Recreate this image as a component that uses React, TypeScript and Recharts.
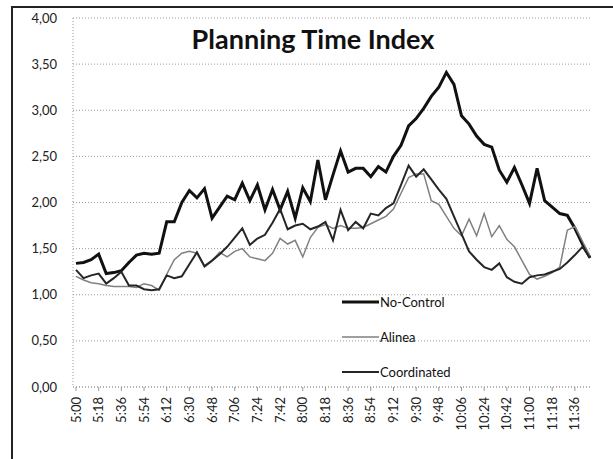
import React from 'react';
import { LineChart, Line, XAxis, YAxis, CartesianGrid, Legend } from 'recharts';

// 6-minute slots from 5:00 to 11:48
const times = [
  '5:00', '5:06', '5:12', '5:18', '5:24', '5:30', '5:36', '5:42', '5:48', '5:54',
  '6:00', '6:06', '6:12', '6:18', '6:24', '6:30', '6:36', '6:42', '6:48', '6:54',
  '7:00', '7:06', '7:12', '7:18', '7:24', '7:30', '7:36', '7:42', '7:48', '7:54',
  '8:00', '8:06', '8:12', '8:18', '8:24', '8:30', '8:36', '8:42', '8:48', '8:54',
  '9:00', '9:06', '9:12', '9:18', '9:24', '9:30', '9:36', '9:42', '9:48', '9:54',
  '10:00', '10:06', '10:12', '10:18', '10:24', '10:30', '10:36', '10:42', '10:48', '10:54',
  '11:00', '11:06', '11:12', '11:18', '11:24', '11:30', '11:36', '11:42', '11:48',
];

const noControl = [
  1.34, 1.35, 1.38, 1.44, 1.23, 1.24, 1.26, 1.35, 1.43, 1.45,
  1.44, 1.45, 1.79, 1.79, 2.0, 2.13, 2.05, 2.15, 1.83, 1.95,
  2.07, 2.03, 2.21, 2.02, 2.19, 1.92, 2.14, 1.92, 2.12, 1.83,
  2.16, 2.01, 2.46, 2.03, 2.3, 2.56, 2.33, 2.37, 2.37, 2.28,
  2.39, 2.33, 2.5, 2.62, 2.83, 2.91, 3.02, 3.15, 3.25, 3.41,
  3.28, 2.94, 2.85, 2.72, 2.63, 2.6, 2.35, 2.22, 2.38, 2.19,
  1.99, 2.37, 2.02, 1.95, 1.88, 1.86, 1.72, 1.55, 1.4,
];

const alinea = [
  1.2, 1.16, 1.13, 1.12, 1.1, 1.09, 1.09, 1.09, 1.08, 1.12,
  1.1, 1.05, 1.22, 1.38, 1.45, 1.47, 1.45, 1.3, 1.37, 1.46,
  1.41, 1.47, 1.5, 1.41, 1.39, 1.37, 1.45, 1.61, 1.55, 1.59,
  1.41, 1.62, 1.73, 1.76, 1.72, 1.75, 1.72, 1.72, 1.73, 1.77,
  1.81, 1.85, 1.93, 2.1, 2.27, 2.31, 2.31, 2.02, 1.98, 1.85,
  1.72, 1.64, 1.82, 1.64, 1.88, 1.63, 1.75, 1.6, 1.52, 1.37,
  1.22, 1.17, 1.2, 1.24, 1.3, 1.7, 1.74, 1.58, 1.42,
];

const coordinated = [
  1.27, 1.18, 1.21, 1.23, 1.12, 1.18, 1.25, 1.1, 1.1, 1.06,
  1.05, 1.06, 1.21, 1.18, 1.2, 1.33, 1.46, 1.31, 1.37, 1.44,
  1.52, 1.62, 1.72, 1.54, 1.61, 1.65, 1.78, 1.93, 1.71, 1.75,
  1.77, 1.71, 1.74, 1.79, 1.59, 1.92, 1.7, 1.79, 1.72, 1.88,
  1.86, 1.94, 1.99, 2.19, 2.4, 2.28, 2.36, 2.25, 2.14, 2.04,
  1.85, 1.66, 1.47, 1.38, 1.3, 1.27, 1.34, 1.19, 1.14, 1.12,
  1.19, 1.21, 1.22, 1.25, 1.28, 1.35, 1.43, 1.52, 1.4,
];

const yTicks = [0, 0.5, 1, 1.5, 2, 2.5, 3, 3.5, 4];

const series = [
  { key: 'noControl', name: 'No-Control', color: '#111111', width: 3 },
  { key: 'alinea', name: 'Alinea', color: '#808080', width: 1.5 },
  { key: 'coordinated', name: 'Coordinated', color: '#262626', width: 2 },
];

const data = times.map((t, i) => ({
  time: t,
  noControl: noControl[i],
  alinea: alinea[i],
  coordinated: coordinated[i],
}));

const FONT = "Lato, 'Open Sans', sans-serif";

const TimeTick = ({ x, y, payload }: any) => (
  <text
    x={x}
    y={y}
    transform={`rotate(-90 ${x} ${y})`}
    textAnchor="end"
    dy="0.35em"
    fontSize={13}
    fontFamily={FONT}
    fill="#222"
  >
    {payload.value}
  </text>
);

const LegendBox = () => (
  <div style={{ fontFamily: FONT, fontSize: 13, color: '#111' }}>
    {series.map(s => (
      <div key={s.key} style={{ display: 'flex', alignItems: 'center', height: 35 }}>
        <svg width={37} height={8}>
          <line x1={0} y1={4} x2={37} y2={4} stroke={s.color} strokeWidth={s.width} />
        </svg>
        <span style={{ marginLeft: 1 }}>{s.name}</span>
      </div>
    ))}
  </div>
);

export default function App() {
  return (
    <div style={{ position: 'absolute', left: 0, top: 0, width: 613, height: 459, background: '#fff', overflow: 'hidden' }}>
      <div
        style={{
          position: 'absolute',
          left: 11,
          top: 6,
          width: 620,
          height: 470,
          borderLeft: '2px solid #222',
          borderTop: '2px solid #222',
        }}
      />
      <LineChart width={613} height={459} data={data} margin={{ top: 18, right: 23, bottom: 0, left: 0 }}>
        <CartesianGrid vertical={false} stroke="#999" strokeDasharray="1 2" />
        <XAxis
          dataKey="time"
          interval={2}
          height={72}
          padding={{ left: 3, right: 0 }}
          tick={<TimeTick />}
          tickSize={4}
          tickMargin={6}
          axisLine={{ stroke: '#999', strokeDasharray: '1 2' }}
          tickLine={{ stroke: '#999' }}
        />
        <YAxis
          width={73}
          domain={[0, 4]}
          ticks={yTicks}
          tickFormatter={(v: number) => v.toFixed(2).replace('.', ',')}
          tick={{ fontSize: 13, fontFamily: FONT, fill: '#222' }}
          tickLine={false}
          tickMargin={10}
          axisLine={{ stroke: '#999', strokeDasharray: '1 2' }}
        />
        {series.map(s => (
          <Line
            key={s.key}
            type="linear"
            dataKey={s.key}
            name={s.name}
            stroke={s.color}
            strokeWidth={s.width}
            dot={false}
            isAnimationActive={false}
          />
        ))}
        <Legend
          layout="vertical"
          align="center"
          verticalAlign="middle"
          content={<LegendBox />}
          wrapperStyle={{ left: 342, top: 284, width: 140 }}
        />
      </LineChart>
      <svg width={613} height={60} style={{ position: 'absolute', left: 0, top: 0, pointerEvents: 'none' }}>
        <text x={313} y={49} textAnchor="middle" fontFamily={FONT} fontWeight="bold" fontSize={27} fill="#111">
          Planning Time Index
        </text>
      </svg>
    </div>
  );
}
